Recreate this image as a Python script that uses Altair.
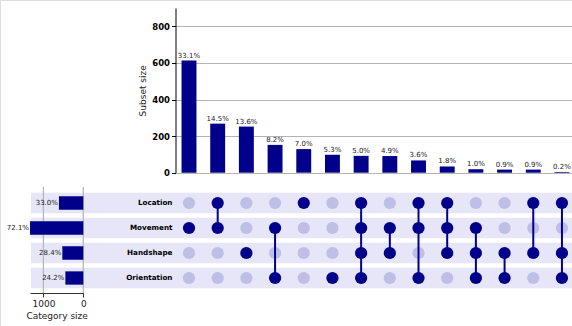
import altair as alt
import pandas as pd

# Categories (matrix rows, top to bottom)
categories = ["Location", "Movement", "Handshape", "Orientation"]

# Intersections, in order of decreasing size: member categories and counts
subset_members = [
    ["Movement"],
    ["Location", "Movement"],
    ["Handshape"],
    ["Movement", "Orientation"],
    ["Location"],
    ["Orientation"],
    ["Location", "Movement", "Handshape", "Orientation"],
    ["Movement", "Handshape"],
    ["Location", "Movement", "Orientation"],
    ["Location", "Movement", "Handshape"],
    ["Movement", "Handshape", "Orientation"],
    ["Handshape", "Orientation"],
    ["Location", "Handshape"],
    ["Location", "Handshape", "Orientation"],
]
subset_counts = [613, 268, 252, 152, 129, 98, 92, 91, 67, 34, 19, 17, 17, 4]

size_ticks = [0, 200, 400, 600, 800]
category_ticks = [0, 1000]

DARK = "#00008b"
LIGHT = "#bebee6"
BAND = "#e6e6f8"
GRID = "#b4b4b4"
FONT = "DejaVu Sans"

total = sum(subset_counts)
subset_ids = [" & ".join(m) for m in subset_members]

bars_df = pd.DataFrame({
    "subset": subset_ids,
    "count": subset_counts,
    "label": [f"{c / total * 100:.1f}%" for c in subset_counts],
})

dots_df = pd.DataFrame([
    {"subset": sid, "category": cat, "member": "yes" if cat in mem else "no"}
    for sid, mem in zip(subset_ids, subset_members)
    for cat in categories
])

lines_df = pd.DataFrame([
    {"subset": sid,
     "first": min(mem, key=categories.index),
     "last": max(mem, key=categories.index)}
    for sid, mem in zip(subset_ids, subset_members) if len(mem) > 1
])

cat_totals = [sum(c for c, mem in zip(subset_counts, subset_members) if cat in mem)
              for cat in categories]
totals_df = pd.DataFrame({
    "category": categories,
    "size": cat_totals,
    "label": [f"{t / total * 100:.1f}%" for t in cat_totals],
})
bands_df = pd.DataFrame({"category": categories})
vgrid_df = pd.DataFrame({"size": category_ticks})

# Shared scale definitions
x_subset = alt.Scale(domain=subset_ids, range=[174.65, 576.3],
                     paddingInner=0.48, paddingOuter=0.24)
y_count = alt.Scale(domain=[0, 900], range=[172.7, 8.0], nice=False, zero=True)
y_cat = alt.Scale(domain=categories, range=[190.5, 290.5],
                  paddingInner=0.18, paddingOuter=0.09)
x_size = alt.Scale(domain=[0, max(cat_totals)], range=[83.3, 30], nice=False)

# Row shading across the totals and the matrix
bands = alt.Chart(bands_df).mark_rect(color=BAND).encode(
    y=alt.Y("category:N", scale=y_cat,
            axis=alt.Axis(orient="left", offset=-172, title=None, ticks=False,
                          tickSize=0, domain=False, labelPadding=0,
                          labelFont=FONT, labelFontSize=7.2, labelFontWeight="bold",
                          labelColor="black", labelAlign="right")),
    x=alt.value(31),
    x2=alt.value(572),
)

vgrid = alt.Chart(vgrid_df).mark_rule(color=GRID, strokeWidth=1.2).encode(
    x=alt.X("size:Q", scale=x_size, axis=None),
    y=alt.value(187),
    y2=alt.value(293),
)

totals = alt.Chart(totals_df).mark_bar(color=DARK, size=13.3).encode(
    x=alt.X("size:Q", scale=x_size,
            axis=alt.Axis(orient="bottom", offset=-33, values=category_ticks,
                          format="d", labelFlush=False,
                          title="Category size", grid=False,
                          labelFont=FONT, labelFontSize=9, labelColor="#222",
                          titleFont=FONT, titleFontSize=9, titleFontWeight="normal",
                          titleColor="#222", titlePadding=3,
                          domainColor="#333", tickColor="#333", tickSize=4,
                          labelPadding=2)),
    y=alt.Y("category:N", scale=y_cat, axis=None),
)

totals_text = alt.Chart(totals_df).mark_text(
    align="right", baseline="middle", dx=-1, font=FONT, fontSize=7, color="#222"
).encode(
    x=alt.X("size:Q", scale=x_size, axis=None),
    y=alt.Y("category:N", scale=y_cat, axis=None),
    text="label:N",
)

dots = alt.Chart(dots_df).mark_circle(size=150, opacity=1).encode(
    x=alt.X("subset:N", scale=x_subset, axis=None),
    y=alt.Y("category:N", scale=y_cat, axis=None),
    color=alt.Color("member:N", scale=alt.Scale(domain=["no", "yes"],
                                                range=[LIGHT, DARK]), legend=None),
)

links = alt.Chart(lines_df).mark_rule(color=DARK, strokeWidth=2).encode(
    x=alt.X("subset:N", scale=x_subset, axis=None),
    y=alt.Y("first:N", scale=y_cat, axis=None),
    y2="last:N",
)

bars = alt.Chart(bars_df).mark_bar(color=DARK).encode(
    x=alt.X("subset:N", scale=x_subset, axis=None),
    y=alt.Y("count:Q", scale=y_count,
            axis=alt.Axis(orient="left", offset=-175.5, values=size_ticks,
                          title="Subset size", grid=True, gridColor=GRID,
                          gridWidth=1, labelFont=FONT, labelFontSize=8.5,
                          labelFontWeight="bold", labelColor="black",
                          titleFont=FONT, titleFontSize=9,
                          titleFontWeight="normal", titleColor="#222",
                          titlePadding=4, domainColor="black", tickColor="black",
                          tickSize=4, labelPadding=2)),
)

bars_text = alt.Chart(bars_df).mark_text(
    baseline="alphabetic", dy=-3, font=FONT, fontSize=7, color="#222"
).encode(
    x=alt.X("subset:N", scale=x_subset, axis=None),
    y=alt.Y("count:Q", scale=y_count, axis=None),
    text="label:N",
)

chart = alt.layer(
    bands, vgrid, totals, totals_text, dots, links, bars, bars_text
).resolve_scale(
    x="independent", y="independent", color="independent"
).properties(
    width=572, height=326, padding=0,
    autosize=alt.AutoSizeParams(type="none"),
).configure_view(stroke=None).configure(font=FONT)

chart.save("out.html", embed_options={"renderer": "svg", "actions": False})
